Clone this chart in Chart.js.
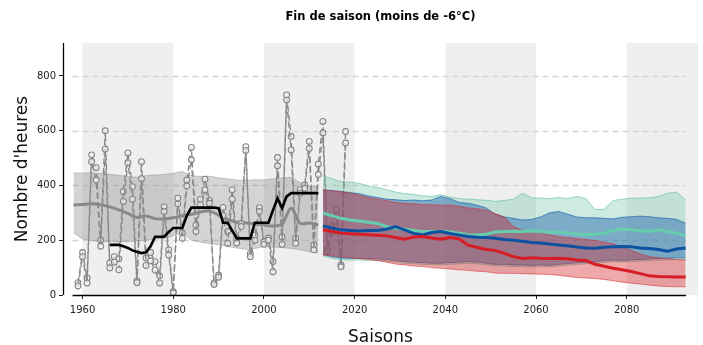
<!DOCTYPE html>
<html><head><meta charset="utf-8">
<script src="https://cdn.jsdelivr.net/npm/chart.js@4.4.1/dist/chart.umd.min.js"></script>
<style>html,body{margin:0;padding:0;background:#fff;overflow:hidden}</style>
</head><body>
<canvas id="c" width="703" height="345"></canvas>
<script>
// ---- texts ----
const chartTitle = "Fin de saison (moins de -6°C)";
const xTitle = "Saisons";
const yTitle = "Nombre d'heures";
const xTickValues = [1960, 1980, 2000, 2020, 2040, 2060, 2080];
const yTickValues = [0, 200, 400, 600, 800];
const shadedPeriods = [[1960, 1980], [2000, 2020], [2040, 2060], [2080, 2100]];
const axisStart = 1957.8, axisEnd = 2093.1;

// ---- observed seasons (two observation series) ----
const obsYears = [1959,1960,1961,1962,1963,1964,1965,1966,1967,1968,1969,1970,1971,1972,1973,1974,1975,1976,1977,1978,1979,1980,1981,1982,1983,1984,1985,1986,1987,1988,1989,1990,1991,1992,1993,1994,1995,1996,1997,1998,1999,2000,2001,2002,2003,2004,2005,2006,2007,2008,2009,2010,2011,2012,2013,2014,2015,2016,2017,2018];
const obsA = [45,155,62,512,465,200,600,117,140,132,378,519,396,51,487,135,155,122,70,322,165,12,354,227,420,539,255,350,423,345,44,73,320,232,384,205,262,542,152,219,319,195,208,122,502,212,731,579,207,385,402,561,183,478,634,170,250,311,110,597];
const obsB = [33,140,44,487,420,178,533,99,120,92,342,483,350,45,425,108,125,91,44,305,146,8,333,207,398,494,232,330,384,335,38,65,290,189,350,190,250,528,140,200,305,185,200,85,472,185,712,530,189,372,390,535,165,440,592,160,230,290,103,555];

// ---- rolling mean of observations ----
const meanYears = [1966,1967,1968,1969,1970,1971,1972,1973,1974,1975,1976,1977,1978,1979,1980,1981,1982,1983,1984,1985,1986,1987,1988,1989,1990,1991,1992,1993,1994,1995,1996,1997,1998,1999,2000,2001,2002,2003,2004,2005,2006,2007,2008,2009,2010,2011,2012];
const obsMean = [183,183,183,178,172,163,158,153,156,178,213,213,213,230,245,245,245,290,319,319,319,319,319,319,317,264,264,235,207,207,207,207,264,264,264,264,310,353,317,360,372,372,372,372,372,372,372];

// ---- historical simulations ----
const histYears = [1958,1960,1962,1964,1966,1968,1970,1972,1974,1976,1978,1980,1982,1984,1986,1988,1990,1992,1994,1996,1998,2000,2002,2004,2006,2008,2010,2012];
const histMed = [329,331,333,330,322,311,298,283,289,279,278,282,290,295,303,307,292,276,266,263,260,256,252,259,317,262,263,256];
const histUp  = [446,445,447,444,440,437,433,430,436,438,440,445,451,436,433,434,428,424,420,418,421,420,424,427,430,410,398,395];
const histLow = [227,205,198,196,195,194,195,197,200,204,207,215,227,200,193,188,184,177,172,166,170,177,175,173,170,165,158,153];

// ---- projections ----
const projYears = [2013,2015,2017,2019,2021,2023,2025,2027,2029,2031,2033,2035,2037,2039,2041,2043,2045,2047,2049,2051,2053,2055,2057,2059,2061,2063,2065,2067,2069,2071,2073,2075,2077,2079,2081,2083,2085,2087,2089,2091,2093];
const tealUp  = [435,425,414,412,408,398,392,385,376,370,368,362,360,366,358,352,350,348,346,342,345,350,372,355,354,352,356,352,360,352,312,313,345,350,353,354,355,360,372,376,347];
const tealMed = [299,290,280,274,270,266,262,250,244,240,236,232,232,233,230,226,220,219,222,230,232,233,232,234,232,228,230,226,222,220,222,226,236,240,238,235,232,238,232,226,216];
const tealLow = [142,134,129,128,128,127,126,124,120,116,114,112,110,110,112,114,116,114,110,106,106,104,104,102,104,102,106,109,112,114,116,119,122,120,122,124,126,127,128,130,129];
const blueUp  = [384,382,378,374,370,362,356,350,348,345,347,344,347,360,352,338,335,328,318,295,285,280,274,276,285,300,305,295,285,282,282,280,278,284,286,288,286,282,280,276,262];
const blueMed = [252,245,238,236,234,236,236,240,250,238,225,219,228,232,225,219,214,211,210,207,203,200,196,192,190,186,183,180,175,172,171,174,176,177,176,172,170,166,160,168,172];
const blueLow = [148,140,135,134,134,133,132,130,126,122,120,118,116,116,118,120,122,120,116,112,112,110,110,108,110,108,112,115,118,120,122,125,128,126,128,130,132,133,134,136,135];
const redUp   = [384,380,377,372,365,356,350,345,338,335,333,330,330,328,329,324,318,315,310,298,285,250,236,232,228,220,213,210,206,203,199,193,187,175,163,150,140,136,133,130,128];
const redMed  = [238,232,226,224,222,220,218,216,210,204,212,214,208,204,210,205,182,174,166,163,152,140,133,136,134,133,134,132,128,126,112,105,98,92,86,78,70,68,67,66,66];
const redLow  = [146,143,140,136,133,130,126,120,113,110,106,104,100,98,95,92,90,87,85,80,79,79,78,77,76,75,72,68,64,62,60,57,52,47,43,40,36,33,31,30,30];

const pts = (xs, ys) => xs.map((x, i) => ({x: x, y: ys[i]}));
const FONT = "'DejaVu Sans', sans-serif";

const datasets = [];
function add(ds) { datasets.push(ds); return datasets.length - 1; }
function band(xs, up, low, fillCol, edgeCol, ord) {
  const iLow = datasets.length + 1;
  add({data: pts(xs, up), borderColor: edgeCol, borderWidth: 1, fill: iLow, backgroundColor: fillCol, pointRadius: 0, order: ord});
  add({data: pts(xs, low), borderColor: edgeCol, borderWidth: 1, fill: false, pointRadius: 0, order: ord - 0.5});
}
band(histYears, histUp, histLow, 'rgba(128,128,128,0.34)', 'rgba(128,128,128,0.4)', 20);
add({data: pts(histYears, histMed), borderColor: '#898989', borderWidth: 3, tension: 0.35, pointRadius: 0, fill: false, order: 18});
const obsStyle = {borderColor: '#8a8a8a', borderWidth: 1.4, borderDash: [6, 3.5], pointRadius: 2.9, pointBorderWidth: 1.1,
  pointBorderColor: '#858585', pointBackgroundColor: 'rgba(245,245,245,0.7)', fill: false, tension: 0};
add(Object.assign({data: pts(obsYears, obsA), order: 17}, obsStyle));
add(Object.assign({data: pts(obsYears, obsB), order: 16}, obsStyle));
add({data: pts(meanYears, obsMean), borderColor: '#000', borderWidth: 2.6, pointRadius: 0, fill: false, order: 15});
band(projYears, tealUp, tealLow, 'rgba(102,194,164,0.32)', 'rgba(102,194,164,0.65)', 14);
band(projYears, blueUp, blueLow, 'rgba(33,102,172,0.47)', 'rgba(33,102,172,0.7)', 12);
band(projYears, redUp, redLow, 'rgba(215,40,45,0.40)', 'rgba(215,40,45,0.55)', 10);
add({data: pts(projYears, tealMed), borderColor: 'rgb(102,206,172)', borderWidth: 3, pointRadius: 0, fill: false, order: 3});
add({data: pts(projYears, blueMed), borderColor: 'rgb(12,82,160)', borderWidth: 3, pointRadius: 0, fill: false, order: 2});
add({data: pts(projYears, redMed), borderColor: 'rgb(214,28,36)', borderWidth: 3, pointRadius: 0, fill: false, order: 1});

const deco = {
  id: 'deco',
  beforeDatasetsDraw(chart) {
    const {ctx, chartArea: a, scales: {x, y}} = chart;
    ctx.save();
    ctx.beginPath(); ctx.rect(a.left, a.top, a.right - a.left, a.bottom - a.top); ctx.clip();
    ctx.fillStyle = '#efefef';
    for (const [s, e] of shadedPeriods) {
      const x0 = x.getPixelForValue(s), x1 = x.getPixelForValue(e);
      ctx.fillRect(x0, a.top, x1 - x0, a.bottom - a.top);
    }
    ctx.strokeStyle = '#d4d4d4'; ctx.lineWidth = 1.3; ctx.setLineDash([6, 4]);
    const gx0 = x.getPixelForValue(axisStart), gx1 = x.getPixelForValue(axisEnd);
    for (const v of yTickValues) {
      if (v === 0) continue;
      const py = Math.round(y.getPixelForValue(v)) + 0.5;
      ctx.beginPath(); ctx.moveTo(gx0, py); ctx.lineTo(gx1, py); ctx.stroke();
    }
    ctx.restore();
  },
  afterDraw(chart) {
    const {ctx, chartArea: a, scales: {x}} = chart;
    ctx.save();
    ctx.strokeStyle = '#000'; ctx.lineWidth = 1.3;
    ctx.beginPath(); ctx.moveTo(a.left + 0.5, a.top); ctx.lineTo(a.left + 0.5, a.bottom); ctx.stroke();
    ctx.beginPath(); ctx.moveTo(x.getPixelForValue(axisStart), a.bottom + 0.5); ctx.lineTo(x.getPixelForValue(axisEnd), a.bottom + 0.5); ctx.stroke();
    ctx.restore();
  }
};

new Chart(document.getElementById('c'), {
  type: 'line',
  data: {datasets},
  plugins: [deco],
  options: {
    responsive: false, animation: false, devicePixelRatio: 1,
    layout: {padding: 0},
    plugins: {
      legend: {display: false}, tooltip: {enabled: false},
      title: {display: true, text: chartTitle, fullSize: false, color: '#000',
        font: {family: FONT, size: 11.5, weight: 'bold', lineHeight: 1.2}, padding: {top: 10, bottom: 19.2}}
    },
    scales: {
      x: {type: 'linear', min: 1955.69, max: 2095.7,
        afterBuildTicks: s => { s.ticks = xTickValues.map(v => ({value: v})); },
        afterFit: s => { s.height = 50; },
        ticks: {font: {family: FONT, size: 10}, color: '#222', padding: 5, maxRotation: 0, autoSkip: false, callback: v => String(v)},
        grid: {display: true, drawOnChartArea: false, drawTicks: true, tickLength: 4, tickColor: '#222', tickWidth: 1},
        border: {display: false},
        title: {display: true, text: xTitle, color: '#111', font: {family: FONT, size: 17, lineHeight: 0.9}, padding: {top: 0, bottom: 0}}
      },
      y: {type: 'linear', min: 0, max: 920.5,
        afterBuildTicks: s => { s.ticks = yTickValues.map(v => ({value: v})); },
        afterFit: s => { s.width = 63; },
        ticks: {font: {family: FONT, size: 10}, color: '#222', padding: 3, callback: v => String(v)},
        grid: {display: true, drawOnChartArea: false, drawTicks: true, tickLength: 4, tickColor: '#222', tickWidth: 1},
        border: {display: false},
        title: {display: true, text: yTitle, color: '#111', font: {family: FONT, size: 17, lineHeight: 1.2}, padding: {top: 12, bottom: 0}}
      }
    }
  }
});
</script>
</body></html>
